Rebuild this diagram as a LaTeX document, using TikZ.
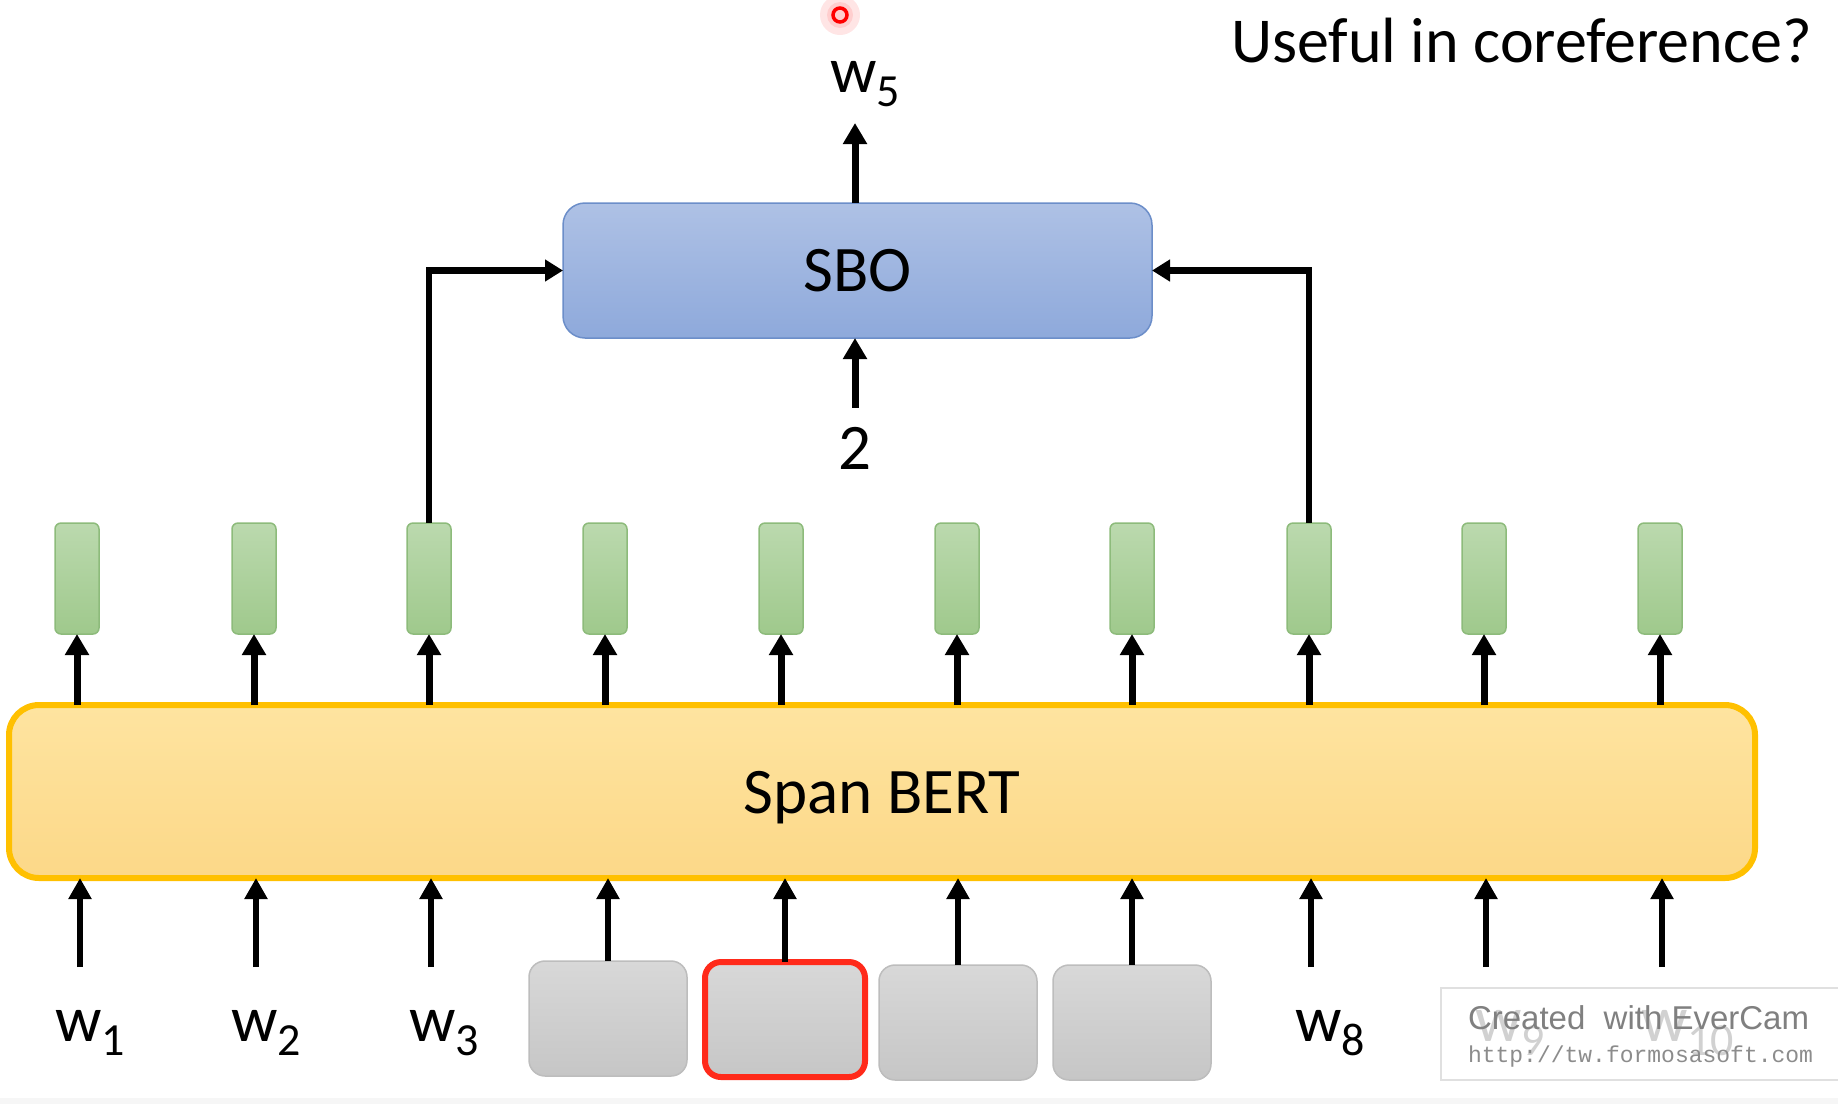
\documentclass[tikz,border=0pt]{standalone}
\usepackage{fontspec}
\setmainfont{Carlito}
\newfontfamily\wmsans{Liberation Sans}
\newfontfamily\wmmono{Liberation Mono}
\usetikzlibrary{arrows.meta}
\definecolor{bertline}{HTML}{FFC000}
\definecolor{berttop}{HTML}{FEE4A0}
\definecolor{bertbot}{HTML}{FCD888}
\definecolor{grtop}{HTML}{BBD9AE}
\definecolor{grbot}{HTML}{9FC98C}
\definecolor{grline}{HTML}{8DBB7B}
\definecolor{sbotop}{HTML}{AEC1E5}
\definecolor{sbobot}{HTML}{8EA9DB}
\definecolor{sboline}{HTML}{6C8EC9}
\definecolor{gytop}{HTML}{D8D8D8}
\definecolor{gybot}{HTML}{C6C6C6}
\definecolor{gyline}{HTML}{BDBDBD}
\definecolor{redline}{HTML}{FF2A1A}
\newcommand\wsub[1]{w\raisebox{-0.22em}{\fontsize{46}{46}\selectfont #1}}
\begin{document}
\begin{tikzpicture}[x=1pt,y=-1pt,
  every node/.style={inner sep=0pt,outer sep=0pt},
  txt/.style={font=\fontsize{65}{70}\selectfont,text=black},
  bertbox/.style={draw=bertline,line width=6pt,rounded corners=30pt,top color=berttop,bottom color=bertbot,minimum width=1746pt,minimum height=173pt},
  embbox/.style={draw=grline,line width=1.5pt,rounded corners=6pt,top color=grtop,bottom color=grbot,minimum width=44pt,minimum height=111pt},
  sbobox/.style={draw=sboline,line width=1.5pt,rounded corners=22pt,top color=sbotop,bottom color=sbobot,minimum width=589pt,minimum height=135pt},
  graybox/.style={draw=gyline,line width=1.5pt,rounded corners=16pt,top color=gytop,bottom color=gybot,minimum width=158pt,minimum height=115pt},
  redbox/.style={graybox,draw=redline,line width=6pt,minimum width=160pt},
  uparr/.style={line width=7pt,-{Triangle[length=21pt,width=23pt]}},
  lowarr/.style={line width=6pt,-{Triangle[length=21pt,width=22pt]}},
  conn/.style={line width=6.5pt,-{Triangle[length=18pt,width=21pt]}},
]
\useasboundingbox (0,0) rectangle (1838,1104);
\fill[gray!7] (0,1098) rectangle (1838,1104);

% laser pointer
\fill[red,opacity=0.10] (840,15) circle (20);
\fill[red,opacity=0.10] (840,15) circle (13);
\draw[red,line width=3.5pt] (840,15) circle (7);

% title
\node[txt,anchor=base west,font=\fontsize{64}{70}\selectfont] (title) at (1231,62) {Useful in coreference?};

% main boxes
\node[bertbox,txt] (bert) at (882,791.5) {\raisebox{-6pt}[\height][\depth]{Span BERT}};
\node[sbobox,txt] (sbo) at (857.5,270.5) {SBO};

% embeddings
\foreach \i/\x in {1/77,2/254,3/429,4/605,5/781,6/957,7/1132,8/1309,9/1484,10/1660}{
  \node[embbox] (e\i) at (\x,578.5) {};
  \draw[uparr] (bert.north -| e\i) -- (e\i.south);
}

% SBO inputs/outputs
\node[txt,anchor=base west] (w5) at (830,92) {\wsub{5}};
\coordinate (w5in) at (855,123);
\draw[uparr] (sbo.north -| w5in) -- (w5in);
\node[txt,anchor=base] (two) at (855,469) {2};
\draw[uparr] ([yshift=19pt]two.north) -- (two.north |- sbo.south);
\draw[conn] (e3.north) |- (sbo.west);
\draw[conn] (e8.north) |- (sbo.east);

% masked tokens
\node[graybox] (g1) at (608,1018.5) {};
\node[redbox] (g2) at (785,1019.5) {};
\node[graybox] (g3) at (958,1022.5) {};
\node[graybox] (g4) at (1132,1022.5) {};
\foreach \g in {g1,g2,g3,g4}{
  \draw[lowarr] (\g.north) -- (\g.north |- bert.south);
}

% word inputs
\foreach \n/\x in {1/80,2/256,3/431,8/1311,9/1486,10/1662}{
  \coordinate (a\n) at (\x,967);
  \draw[lowarr] (a\n) -- (a\n |- bert.south);
}
\node[txt,anchor=base west] (w1) at (55,1041) {\wsub{1}};
\node[txt,anchor=base west] (w2) at (231,1041) {\wsub{2}};
\node[txt,anchor=base west] (w3) at (409,1041) {\wsub{3}};
\node[txt,anchor=base west] (w8) at (1295,1041) {\wsub{8}};
\node[txt,anchor=base west,text=black!40] (w9) at (1475,1041) {\wsub{9}};
\node[txt,anchor=base west,text=black!40] (w10) at (1641,1041) {\wsub{10}};

% watermark
\fill[white,opacity=0.55] (1441,988) rectangle (1838,1080);
\draw[black!12,line width=1.5pt] (1838,988) -- (1441,988) -- (1441,1080) -- (1838,1080);
\node[anchor=west,text=black!50,font=\wmsans\fontsize{33}{36}\selectfont] (wm1) at (1468,1018) {Created\ \ with EverCam};
\node[anchor=west,text=black!45,font=\wmmono\fontsize{23}{26}\selectfont] (wm2) at (1468,1057) {http://tw.formosasoft.com};
\end{tikzpicture}
\end{document}
